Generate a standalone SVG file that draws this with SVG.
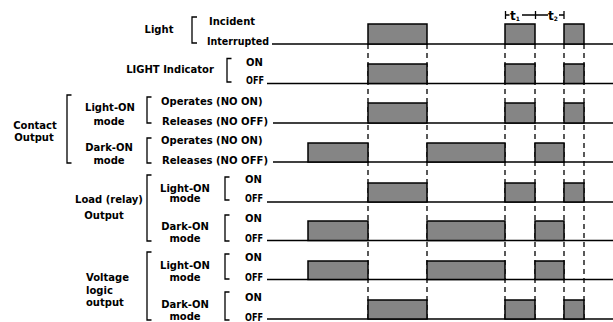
<svg xmlns="http://www.w3.org/2000/svg" width="613" height="322" viewBox="0 0 613 322">
<style>
text{font-family:"DejaVu Sans","Liberation Sans",Arial,sans-serif;font-weight:bold;font-size:10px;fill:#000}
.m{text-anchor:middle}
.br{fill:none;stroke:#000;stroke-width:1.3}
.base{stroke:#000;stroke-width:1.4;fill:none}
.p{fill:#858585;stroke:#000;stroke-width:1.5;stroke-linejoin:miter}
.dash{stroke:#000;stroke-width:1.3;stroke-dasharray:5 4;fill:none}
.tk{stroke:#000;stroke-width:1.3;fill:none}
</style>
<rect width="613" height="322" fill="#fff"/>

<g id="connectors">
<path class="dash" d="M368,44V319M427,44V319M505,44V319M535,44V319M564,44V319M584,44V319"/>
</g>

<g id="timing">
<path class="tk" d="M505.5,11V19M505.5,15H509.5M522,15H548M535.5,11V19M559,15H564M564,11V19"/>
<text x="510" y="19.5" style="font-size:12px">t<tspan style="font-size:6px" dy="1.5">1</tspan></text>
<text x="548" y="19.5" style="font-size:12px">t<tspan style="font-size:6px" dy="1.5">2</tspan></text>
</g>

<g id="row-light">
<text class="m" x="159" y="32.5">Light</text>
<path class="br" d="M197,17H192V43H197"/>
<text x="209" y="25">Incident</text>
<text x="207" y="45" textLength="62" lengthAdjust="spacingAndGlyphs">Interrupted</text>
<path class="base" d="M272,44H613"/>
<path class="p" d="M368,44V24H427V44ZM505,44V24H535V44ZM564,44V24H584V44Z"/>
</g>

<g id="row-indicator">
<text class="m" x="170" y="73.3">LIGHT Indicator</text>
<path class="br" d="M231.5,58.5H227V82H231.5"/>
<text x="246" y="65.7">ON</text>
<text x="246" y="84" textLength="18" lengthAdjust="spacingAndGlyphs">OFF</text>
<path class="base" d="M267,83.5H613"/>
<path class="p" d="M368,83.5V64H427V83.5ZM505,83.5V64H535V83.5ZM564,83.5V64H584V83.5Z"/>
</g>

<g id="group-contact">
<path class="br" d="M71.5,95H67V163H71.5"/>
<text class="m" x="35" y="129">Contact</text>
<text class="m" x="34" y="140.7">Output</text>
</g>

<g id="row-contact-light">
<text class="m" x="110" y="111.3">Light-ON</text>
<text class="m" x="109" y="124.7">mode</text>
<path class="br" d="M151.5,97H147V123H151.5"/>
<text x="161" y="104.5">Operates (NO ON)</text>
<text x="162" y="124.5" textLength="106" lengthAdjust="spacingAndGlyphs">Releases (NO OFF)</text>
<path class="base" d="M273,123H613"/>
<path class="p" d="M368,123V103H427V123ZM505,123V103H535V123ZM564,123V103H584V123Z"/>
</g>

<g id="row-contact-dark">
<text class="m" x="109" y="151.3">Dark-ON</text>
<text class="m" x="109" y="163.7">mode</text>
<path class="br" d="M151.5,138H147V163H151.5"/>
<text x="161" y="144">Operates (NO ON)</text>
<text x="162" y="164" textLength="106" lengthAdjust="spacingAndGlyphs">Releases (NO OFF)</text>
<path class="base" d="M273,162H613"/>
<path class="p" d="M308,162V143H368V162ZM427,162V143H505V162ZM535,162V143H564V162Z"/>
</g>

<g id="group-load">
<path class="br" d="M151.5,175H147V241H151.5"/>
<text class="m" x="109" y="203.3">Load (relay)</text>
<text class="m" x="104" y="219.3">Output</text>
</g>

<g id="row-load-light">
<text class="m" x="185" y="191.7">Light-ON</text>
<text class="m" x="185" y="201.7">mode</text>
<path class="br" d="M229.5,177H225V200H229.5"/>
<text x="245" y="183.3">ON</text>
<text x="245" y="202.3" textLength="18" lengthAdjust="spacingAndGlyphs">OFF</text>
<path class="base" d="M267,202H613"/>
<path class="p" d="M368,202V183H427V202ZM505,202V183H535V202ZM564,202V183H584V202Z"/>
</g>

<g id="row-load-dark">
<text class="m" x="185" y="230">Dark-ON</text>
<text class="m" x="185" y="242.3">mode</text>
<path class="br" d="M229.5,215H225V241H229.5"/>
<text x="245" y="221.7">ON</text>
<text x="245" y="241.7" textLength="18" lengthAdjust="spacingAndGlyphs">OFF</text>
<path class="base" d="M267,240.5H613"/>
<path class="p" d="M308,240.5V221H368V240.5ZM427,240.5V221H505V240.5ZM535,240.5V221H564V240.5Z"/>
</g>

<g id="group-voltage">
<path class="br" d="M151.5,252H147V320H151.5"/>
<text x="86" y="281.3">Voltage</text>
<text x="86" y="293.7">logic</text>
<text x="86" y="306">output</text>
</g>

<g id="row-voltage-light">
<text class="m" x="185" y="268.7">Light-ON</text>
<text class="m" x="185" y="281">mode</text>
<path class="br" d="M229.5,254H225V279H229.5"/>
<text x="245" y="261.3">ON</text>
<text x="245" y="281" textLength="18" lengthAdjust="spacingAndGlyphs">OFF</text>
<path class="base" d="M267,279.5H613"/>
<path class="p" d="M308,279.5V261H368V279.5ZM427,279.5V261H505V279.5ZM535,279.5V261H564V279.5Z"/>
</g>

<g id="row-voltage-dark">
<text class="m" x="185" y="308">Dark-ON</text>
<text class="m" x="185" y="320">mode</text>
<path class="br" d="M229.5,292H225V320H229.5"/>
<text x="245" y="301.3">ON</text>
<text x="245" y="320.5" textLength="18" lengthAdjust="spacingAndGlyphs">OFF</text>
<path class="base" d="M267,319H613"/>
<path class="p" d="M368,319V300H427V319ZM505,319V300H535V319ZM564,319V300H584V319Z"/>
</g>
</svg>
